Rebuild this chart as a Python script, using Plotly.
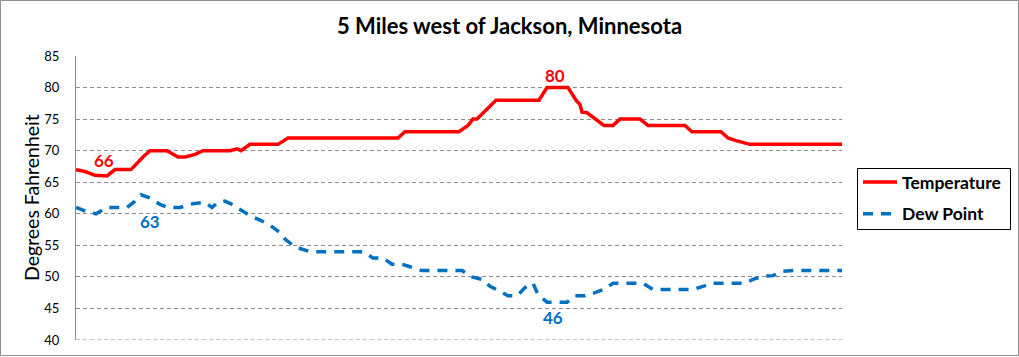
import plotly.graph_objects as go

# Minutes from the start of the record (horizontal position of each reading)
temp_t = [0, 9, 19, 31, 39, 55, 67, 74, 91, 102, 109, 119, 127, 154, 161, 165, 174, 202, 212,
          322, 329, 383, 392, 397, 401, 409, 420, 463, 471, 492, 500, 504, 506, 511, 528, 537,
          544, 564, 572, 609, 616, 645, 652, 660, 674, 766]
temp_v = [67, 66.7, 66.1, 66, 67, 67, 69, 70, 70, 69, 69, 69.4, 70, 70, 70.3, 70, 71, 71, 72,
          72, 73, 73, 74, 75, 75, 76.3, 78, 78, 80, 80, 78, 77.3, 76.1, 76, 74, 74,
          75, 75, 74, 74, 73, 73, 72, 71.6, 71, 71]

dew_t = [0, 11, 20, 31, 51, 59, 65, 74, 84, 92, 104, 117, 129, 136, 141, 149, 156, 169, 174,
         184, 194, 204, 209, 217, 224, 234, 287, 297, 307, 316, 326, 334, 346, 386, 396, 406,
         414, 422, 432, 441, 449, 457, 462, 471, 491, 499, 509, 519, 529, 537, 567, 577, 617,
         627, 637, 669, 677, 687, 697, 707, 717, 766]
dew_v = [61, 60.3, 60, 61, 61, 62, 63, 62.5, 61.5, 61, 61, 61.6, 61.8, 61, 61.7, 62, 61.5, 60.3, 59.7,
         59, 58.2, 57, 56, 55, 54.5, 54, 54, 53, 53, 52, 52, 51.6, 51, 51, 50, 49.6,
         48.5, 47.9, 47, 47, 48.3, 49, 47.2, 46, 46, 47, 47, 47.5, 48.1, 49, 49, 48, 48,
         48.5, 49, 49, 49.6, 50.1, 50.2, 50.9, 51, 51]

# Labelled extremes
labels_t = [28, 479, 74, 477]
labels_v = [66, 80, 63, 46]
labels_txt = ["66", "80", "63", "46"]

y_ticks = [40, 45, 50, 55, 60, 65, 70, 75, 80, 85]

RED = "#FF0000"
BLUE = "#0070C0"
FONT = "Lato"

# plot area in pixels: x 76..842, y 56..340
PW, PH = 766.0, 284.0
def px_x(p):
    return (p - 76) / PW
def px_y(p):
    return (340 - p) / PH

fig = go.Figure()
fig.add_trace(go.Scatter(x=temp_t, y=temp_v, mode="lines", name="<b>Temperature</b>",
                         line=dict(color=RED, width=3.5), legendgroup="a"))
fig.add_trace(go.Scatter(x=dew_t, y=dew_v, mode="lines", name="<b>Dew Point</b>",
                         line=dict(color=BLUE, width=3.5, dash="10px,8px"), legendgroup="b"))

shifts = [15, 12, -27, -15]
colors = [RED, RED, BLUE, BLUE]
for t, v, s, sh, c in zip(labels_t, labels_v, labels_txt, shifts, colors):
    fig.add_annotation(x=t, y=v, xref="x", yref="y", text="<b>%s</b>" % s, showarrow=False,
                       yshift=sh, font=dict(family=FONT, size=17, color=c))

# y-axis title
fig.add_annotation(x=px_x(31), y=px_y(198), xref="paper", yref="paper", text="Degrees Fahrenheit",
                   textangle=-90, showarrow=False, xanchor="center", yanchor="middle",
                   font=dict(family=FONT, size=19.5, color="black"))

# outer chart border
fig.add_shape(type="rect", xref="paper", yref="paper",
              x0=px_x(0.5), x1=px_x(1018.5), y0=px_y(355.5), y1=px_y(0.5),
              line=dict(color="#8c8c8c", width=1), fillcolor="rgba(0,0,0,0)", layer="below")
# legend box
fig.add_shape(type="rect", xref="paper", yref="paper",
              x0=px_x(857.5), x1=px_x(1010.5), y0=px_y(229.5), y1=px_y(168.5),
              line=dict(color="black", width=1), fillcolor="white", layer="below")
# bottom gridline at 40
fig.add_shape(type="line", xref="paper", yref="y", x0=0, x1=1, y0=40, y1=40,
              line=dict(color="#8c8c8c", width=1, dash="4px,3px"), layer="below")

fig.update_layout(
    template="none",
    width=1019, height=357,
    margin=dict(l=76, r=177, t=56, b=17, pad=0, autoexpand=False),
    paper_bgcolor="white", plot_bgcolor="white",
    title=dict(text="<b>5 Miles west of Jackson, Minnesota</b>", x=0.5, xref="container",
               y=1 - 26/357, yref="container", xanchor="center", yanchor="middle",
               font=dict(family=FONT, size=22, color="black")),
    showlegend=True,
    legend=dict(x=px_x(858), y=px_y(164), xanchor="left", yanchor="top",
                borderwidth=0, bgcolor="rgba(0,0,0,0)", itemwidth=34,
                font=dict(family=FONT, size=17.5, color="black"),
                tracegroupgap=6, traceorder="grouped"),
    xaxis=dict(range=[0, 766], showgrid=False, showticklabels=False, ticks="",
               zeroline=False, showline=False, fixedrange=True, automargin=False),
    yaxis=dict(range=[40, 85], tickvals=y_ticks, showgrid=True, gridcolor="#8c8c8c",
               griddash="4px,3px", gridwidth=1, zeroline=False, showline=True,
               linecolor="#8c8c8c", linewidth=1, ticks="", ticklabelstandoff=13,
               tickfont=dict(family=FONT, size=13, color="black"), automargin=False,
               fixedrange=True),
)

fig.write_html("out.html", config={"displayModeBar": False},
               post_script="document.body.style.margin='0';document.body.style.overflow='hidden';")
